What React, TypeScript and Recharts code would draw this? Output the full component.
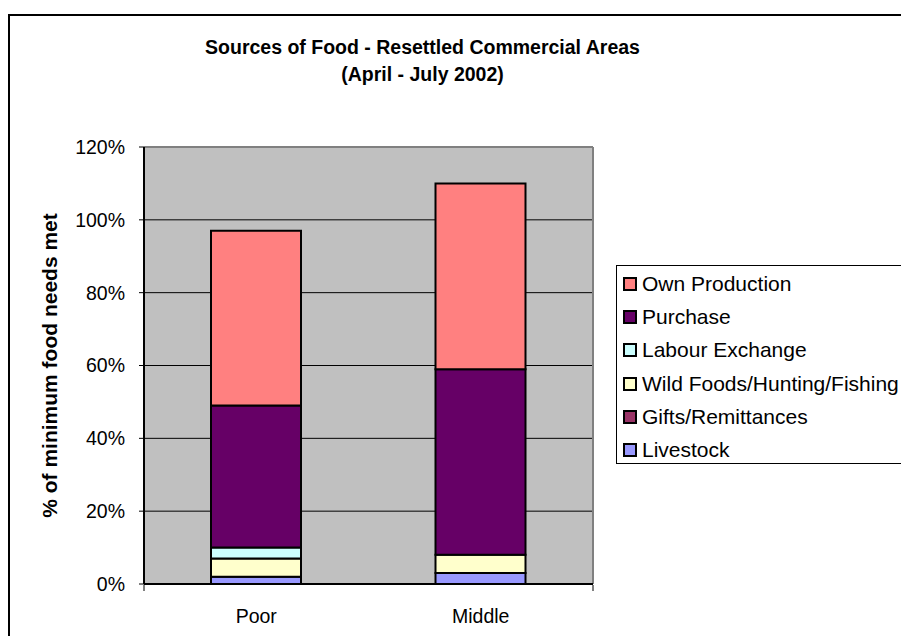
import React from 'react';
import { BarChart, Bar, XAxis, YAxis, CartesianGrid, Legend } from 'recharts';

const categories = ['Poor', 'Middle'];
const livestock = [2, 3];
const gifts = [0, 0];
const wildFoods = [5, 5];
const labourExchange = [3, 0];
const purchase = [39, 51];
const ownProduction = [48, 51];
const yTicks = [0, 20, 40, 60, 80, 100, 120];

const series = [
  { key: 'livestock', name: 'Livestock', color: '#9999FF', values: livestock },
  { key: 'gifts', name: 'Gifts/Remittances', color: '#993366', values: gifts },
  { key: 'wild', name: 'Wild Foods/Hunting/Fishing', color: '#FFFFCC', values: wildFoods },
  { key: 'labour', name: 'Labour Exchange', color: '#CCFFFF', values: labourExchange },
  { key: 'purchase', name: 'Purchase', color: '#660066', values: purchase },
  { key: 'own', name: 'Own Production', color: '#FF8080', values: ownProduction },
];

const data = categories.map((c, i) => {
  const row: any = { name: c };
  series.forEach((s) => (row[s.key] = s.values[i]));
  return row;
});

const FONT = '"Liberation Sans", Arial, sans-serif';

function LegendBox() {
  return (
    <div
      style={{
        border: '1px solid #000',
        background: '#fff',
        width: 292,
        height: 199,
        boxSizing: 'border-box',
        paddingTop: 1,
        paddingLeft: 6,
        fontFamily: FONT,
        fontSize: 21,
        color: '#000',
      }}
    >
      {[...series].reverse().map((s) => (
        <div key={s.key} style={{ height: 33.3, display: 'flex', alignItems: 'center' }}>
          <span
            style={{
              display: 'inline-block',
              width: 10,
              height: 10,
              border: '2px solid #000',
              background: s.color,
              marginRight: 5,
            }}
          />
          <span style={{ whiteSpace: 'nowrap' }}>{s.name}</span>
        </div>
      ))}
    </div>
  );
}

export default function App() {
  return (
    <div style={{ position: 'relative', width: 901, height: 628, fontFamily: FONT }}>
      <div
        style={{
          position: 'absolute',
          left: 0,
          top: 6,
          width: 901,
          height: 622,
          boxSizing: 'border-box',
          borderLeft: '2px solid #000',
          borderTop: '2px solid #000',
        }}
      />
      <div
        style={{
          position: 'absolute',
          left: 0,
          top: 26,
          width: 829,
          textAlign: 'center',
          fontWeight: 'bold',
          fontSize: 19.5,
          lineHeight: '27px',
          color: '#000',
        }}
      >
        Sources of Food - Resettled Commercial Areas
        <br />
        (April - July 2002)
      </div>
      <BarChart
        width={901}
        height={628}
        data={data}
        margin={{ top: 139, right: 316, bottom: 22, left: 0 }}
        barSize={90}
        style={{ position: 'absolute', left: 0, top: 0 }}
      >
        <CartesianGrid
          xAxisId="cat"
          vertical={false}
          horizontalValues={[20, 40, 60, 80, 100]}
          stroke="#000"
          fill="#C0C0C0"
          fillOpacity={1}
        />
        <CartesianGrid
          xAxisId="cat"
          horizontalCoordinatesGenerator={({ offset }: any) => [offset.top]}
          verticalCoordinatesGenerator={({ offset }: any) => [offset.left + offset.width]}
          stroke="#808080"
          strokeWidth={2}
        />
        <XAxis
          xAxisId="t"
          type="number"
          domain={[0, 2]}
          allowDataOverflow
          ticks={[0, 1, 2]}
          interval={0}
          tick={() => <g />}
          axisLine={false}
          tickLine={{ stroke: '#000', strokeWidth: 1 }}
          tickSize={6}
          height={29}
        />
        <XAxis
          xAxisId="cat"
          dataKey="name"
          height={1}
          tickLine={false}
          tickSize={0}
          tickMargin={25}
          axisLine={{ stroke: '#000', strokeWidth: 2 }}
          tick={{ fill: '#000', fontSize: 19.5, fontFamily: FONT }}
        />
        <YAxis
          width={136}
          domain={[0, 120]}
          ticks={yTicks}
          tickFormatter={(v: number) => `${v}%`}
          tickSize={5}
          tickMargin={14}
          axisLine={{ stroke: '#000', strokeWidth: 2 }}
          tickLine={{ stroke: '#000' }}
          tick={{ fill: '#000', fontSize: 19.5, fontFamily: FONT }}
          label={(props: any) => {
            const vb = props.viewBox;
            const x = vb.x + 41;
            const y = vb.y + vb.height / 2;
            return (
              <text
                x={x}
                y={y}
                transform={`rotate(-90 ${x} ${y})`}
                textAnchor="middle"
                dominantBaseline="central"
                fontWeight="bold"
                fontSize={21}
                fontFamily={FONT}
                fill="#000"
              >
                % of minimum food needs met
              </text>
            );
          }}
        />
        {series.map((s) => (
          <Bar
            key={s.key}
            xAxisId="cat"
            dataKey={s.key}
            name={s.name}
            stackId="a"
            fill={s.color}
            stroke="#000"
            strokeWidth={2}
            isAnimationActive={false}
          />
        ))}
        <Legend
          layout="vertical"
          align="center"
          verticalAlign="middle"
          content={() => <LegendBox />}
          wrapperStyle={{ left: 608, top: 257, width: 292 }}
        />
      </BarChart>
    </div>
  );
}
